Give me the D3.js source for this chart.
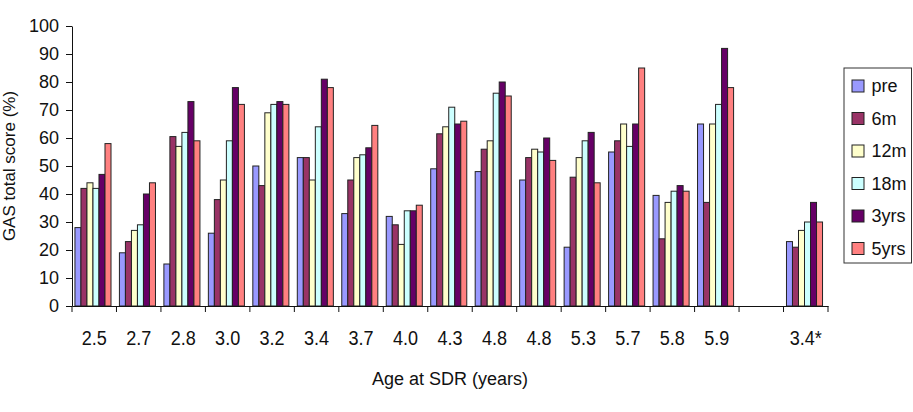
<!DOCTYPE html>
<html>
<head>
<meta charset="utf-8">
<script src="https://cdn.jsdelivr.net/npm/d3@7"></script>
<style>
  body { margin: 0; background: #fff; }
  svg { display: block; font-family: "Liberation Sans", Arial, sans-serif; }
</style>
</head>
<body>
<svg width="913" height="412"></svg>
<script>
// age at SDR for each child, one empty slot before the last one
var categories = ["2.5", "2.7", "2.8", "3.0", "3.2", "3.4", "3.7", "4.0", "4.3", "4.8", "4.8", "5.3", "5.7", "5.8", "5.9", "", "3.4*"]
var seriesNames = ["pre", "6m", "12m", "18m", "3yrs", "5yrs"]
var seriesColors = ["#9999ff", "#993366", "#ffffcc", "#ccffff", "#660066", "#ff8080"]

var pre  = [28, 19, 15, 26, 50, 53, 33, 32, 49, 48, 45, 21, 55, 39.5, 65, null, 23]
var m6   = [42, 23, 60.5, 38, 43, 53, 45, 29, 61.5, 56, 53, 46, 59, 24, 37, null, 21]
var m12  = [44, 27, 57, 45, 69, 45, 53, 22, 64, 59, 56, 53, 65, 37, 65, null, 27]
var m18  = [42, 29, 62, 59, 72, 64, 54, 34, 71, 76, 55, 59, 57, 41, 72, null, 30]
var y3   = [47, 40, 73, 78, 73, 81, 56.5, 34, 65, 80, 60, 62, 65, 43, 92, null, 37]
var y5   = [58, 44, 59, 72, 72, 78, 64.5, 36, 66, 75, 52, 44, 85, 41, 78, null, 30]

var yTicks = [0, 10, 20, 30, 40, 50, 60, 70, 80, 90, 100]

var values = [pre, m6, m12, m18, y3, y5]

var svg = d3.select("svg")
var margin = { left: 72, right: 85, top: 26, bottom: 106 }
var width = 913, height = 412

var x = d3.scaleBand()
    .domain(d3.range(categories.length))
    .range([margin.left, width - margin.right])
    .padding(0)

var xs = d3.scaleBand()
    .domain(seriesNames)
    .range([0, x.bandwidth()])
    .paddingInner(0)
    .paddingOuter(0.7)
    .align(0.35)

var y = d3.scaleLinear()
    .domain([0, 100])
    .range([height - margin.bottom, margin.top])

// bars
var rows = []
categories.forEach(function (c, i) {
    seriesNames.forEach(function (s, j) {
        if (values[j][i] != null) rows.push({ i: i, s: s, j: j, v: values[j][i] })
    })
})

svg.append("g")
    .selectAll("rect")
    .data(rows)
    .join("rect")
    .attr("x", d => x(d.i) + xs(d.s))
    .attr("y", d => y(d.v))
    .attr("width", xs.bandwidth())
    .attr("height", d => y(0) - y(d.v))
    .attr("fill", d => seriesColors[d.j])
    .attr("stroke", "#222")
    .attr("stroke-width", 1)

// y axis
var yAxis = svg.append("g")
    .attr("transform", "translate(" + margin.left + ",0)")
    .call(d3.axisLeft(y).tickValues(yTicks).tickSize(6).tickPadding(7).tickSizeOuter(0))
yAxis.selectAll("text").style("font-size", "18px").attr("fill", "#111")
yAxis.selectAll("line, path").attr("stroke", "#111")

// x axis: labels in the middle, tick marks between categories
var xAxis = svg.append("g")
    .attr("transform", "translate(0," + y(0) + ")")
    .call(d3.axisBottom(x).tickFormat(i => categories[i]).tickSize(0).tickSizeOuter(0))
xAxis.select("path").attr("stroke", "#111")
xAxis.selectAll("text")
    .attr("y", 24)
    .attr("dy", "0.71em")
    .attr("transform", "scale(0.86,1)")
    .attr("fill", "#111")
    .style("font-size", "21px")

var bounds = d3.range(categories.length).map(i => x(i)).concat([x.range()[1]])
xAxis.selectAll(".sep")
    .data(bounds)
    .join("line")
    .attr("class", "sep")
    .attr("x1", d => d).attr("x2", d => d)
    .attr("y1", 0).attr("y2", 6)
    .attr("stroke", "#111")

// axis titles
svg.append("text")
    .attr("x", (margin.left + width - margin.right) / 2)
    .attr("y", 385)
    .attr("text-anchor", "middle")
    .style("font-size", "18px")
    .attr("fill", "#111")
    .text("Age at SDR (years)")

svg.append("text")
    .attr("transform", "translate(15," + (margin.top + height - margin.bottom) / 2 + ") rotate(-90)")
    .attr("text-anchor", "middle")
    .style("font-size", "17px")
    .attr("fill", "#111")
    .text("GAS total score (%)")

// legend
var legend = svg.append("g").attr("transform", "translate(844,68)")
legend.append("rect")
    .attr("width", 67.5).attr("height", 195)
    .attr("fill", "#fff").attr("stroke", "#333")

var item = legend.selectAll(".item")
    .data(seriesNames)
    .join("g")
    .attr("class", "item")
    .attr("transform", (d, i) => "translate(0," + (18 + i * 32.5) + ")")
item.append("rect")
    .attr("x", 8).attr("y", -6)
    .attr("width", 12).attr("height", 12)
    .attr("fill", (d, i) => seriesColors[i])
    .attr("stroke", "#222")
item.append("text")
    .attr("x", 27.5).attr("dy", "0.35em")
    .style("font-size", "18px")
    .attr("fill", "#111")
    .text(d => d)
</script>
</body>
</html>
